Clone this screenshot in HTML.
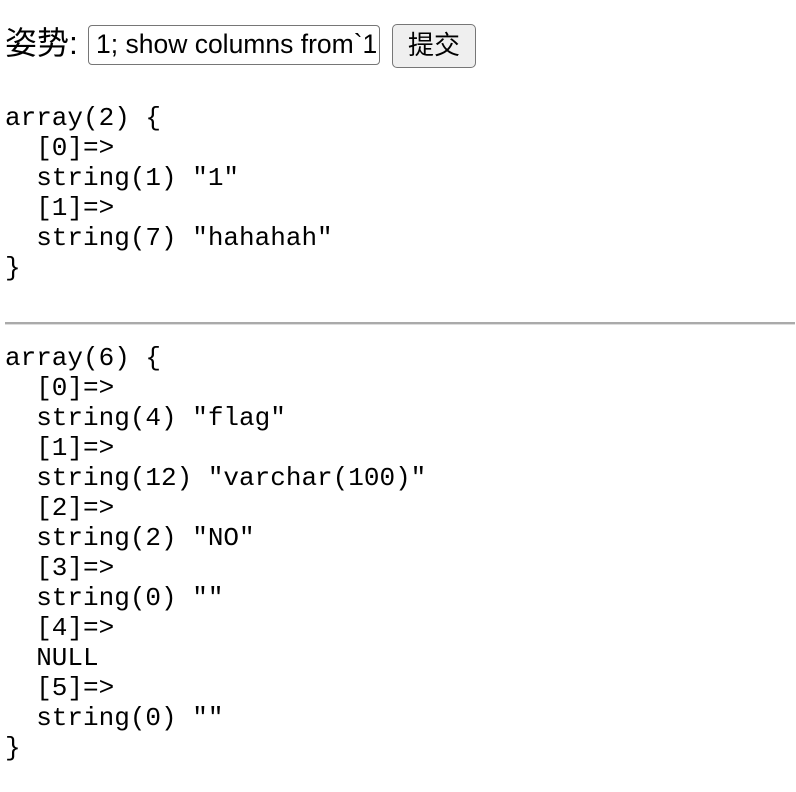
<!DOCTYPE html>
<html><head><meta charset="utf-8"><style>
body{margin:0;width:796px;height:792px;background:#fff;position:relative;overflow:hidden;font-family:"Liberation Sans","Noto Sans CJK SC",sans-serif;color:#000}
.lbl{position:absolute;left:5px;top:23px;font-size:32px;line-height:40px}
.inp{position:absolute;left:88px;top:25px;width:292px;height:40px;border:1.5px solid #767676;border-radius:4px;box-sizing:border-box;font-size:26.5px;line-height:37px;padding-left:7px;white-space:nowrap;overflow:hidden}
.btn{position:absolute;left:392px;top:24px;width:84px;height:44px;border:1.5px solid #767676;border-radius:5px;background:#efefef;box-sizing:border-box;font-size:26px;line-height:40px;text-align:center}
pre{position:absolute;left:5px;margin:0;font-family:"Liberation Mono",monospace;font-size:26px;line-height:30px}
hr{position:absolute;left:5px;top:322px;width:790px;margin:0;border:0;border-top:2px solid #aaa;border-bottom:1px solid #ddd}
</style></head><body>
<div class="lbl">姿势:</div>
<div class="inp">1; show columns from`1</div>
<div class="btn">提交</div>
<pre style="top:103px">array(2) {
  [0]=&gt;
  string(1) "1"
  [1]=&gt;
  string(7) "hahahah"
}</pre>
<hr>
<pre style="top:343px">array(6) {
  [0]=&gt;
  string(4) "flag"
  [1]=&gt;
  string(12) "varchar(100)"
  [2]=&gt;
  string(2) "NO"
  [3]=&gt;
  string(0) ""
  [4]=&gt;
  NULL
  [5]=&gt;
  string(0) ""
}</pre>
</body></html>
